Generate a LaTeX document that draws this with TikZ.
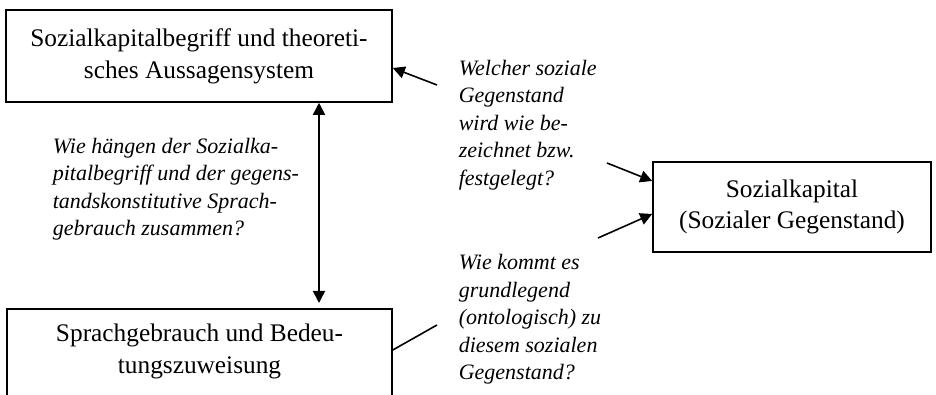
\documentclass[tikz,border=0pt]{standalone}
\usepackage{fontspec}
\setmainfont{Liberation Serif}
\usetikzlibrary{arrows.meta}

\begin{document}
\begin{tikzpicture}[
    x=0.75pt, y=-0.75pt,
    box/.style={draw, inner sep=0pt, align=center, font=\fontsize{19}{24}\selectfont},
    question/.style={anchor=west, inner sep=0pt, align=left, font=\fontsize{16.5}{20.6}\selectfont\itshape},
    tip/.style={-{Triangle[length=9pt, width=9pt]}},
    line width=1.2pt
  ]
  \useasboundingbox (0,0) rectangle (936,395);

  % Boxes
  \node[box, minimum width=289.5pt, minimum height=69pt] (begriff) at (199,56) {Sozialkapitalbegriff und theoreti-\\sches Aussagensystem};
  \node[box, minimum width=288.75pt, minimum height=90pt, anchor=north] (sprache) at (199.5,308) {};
  \node[box, draw=none] (sprachetext) at (199.5,351) {Sprachgebrauch und Bedeu-\\tungszuweisung};
  \node[box, minimum width=208.5pt, minimum height=67.5pt, font=\fontsize{19}{23.5}\selectfont] (kapital) at (792,207) {Sozialkapital\\(Sozialer Gegenstand)};

  % Questions
  \node[question] (qsprache) at (52,189) {Wie hängen der Sozialka-\\pitalbegriff und der gegens-\\tandskonstitutive Sprach-\\gebrauch zusammen?};
  \node[question] (qbegriff) at (458,125) {Welcher soziale\\Gegenstand\\wird wie be-\\zeichnet bzw.\\festgelegt?};
  \node[question] (qgrund) at (458,319.5) {Wie kommt es\\grundlegend\\(ontologisch) zu\\diesem sozialen\\Gegenstand?};

  % Free line ends
  \coordinate (e1) at (437,85);
  \coordinate (e2) at (607,163);
  \coordinate (e3) at (598,238);
  \coordinate (e4) at (437,325);

  % Connectors
  \draw[{Triangle[length=9pt, width=9pt]}-{Triangle[length=9pt, width=9pt]}, shorten >=3.75pt] (begriff.south -| 319,0) -- (sprache.north -| 319,0);
  \draw[tip] (e1) -- (begriff.east |- 0,68);
  \draw[tip] (e2) -- (kapital.west |- 0,181);
  \draw[tip] (e3) -- (kapital.west |- 0,214);
  \draw (sprache.east |- 0,350) -- (e4);
\end{tikzpicture}
\end{document}
